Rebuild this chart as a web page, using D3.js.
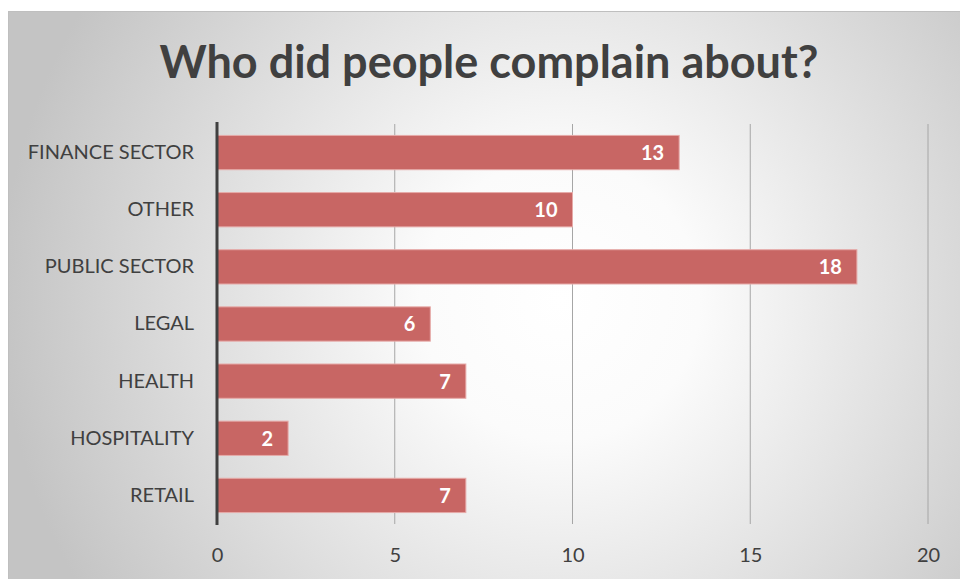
<!DOCTYPE html>
<html>
<head>
<meta charset="utf-8">
<script src="https://cdn.jsdelivr.net/npm/d3@7"></script>
<style>
  body { margin: 0; background: #fff; }
  svg { display: block; }
</style>
</head>
<body>
<svg class="chart"></svg>
<script>
  let categories = ["FINANCE SECTOR", "OTHER", "PUBLIC SECTOR", "LEGAL", "HEALTH", "HOSPITALITY", "RETAIL"];
  let counts = [13, 10, 18, 6, 7, 2, 7];
  let xTicks = [0, 5, 10, 15, 20];
  let title = "Who did people complain about?";

  let width = 960;
  let height = 579;
  let font = "Lato, 'Open Sans', sans-serif";

  let svg = d3.select(".chart").attr("width", width).attr("height", height);

  // background panel with a soft radial shading
  let defs = svg.append("defs");
  let grad = defs.append("radialGradient")
    .attr("id", "bg")
    .attr("gradientUnits", "userSpaceOnUse")
    .attr("cx", 560).attr("cy", 300).attr("r", 560);
  grad.append("stop").attr("offset", "0%").attr("stop-color", "#ffffff");
  grad.append("stop").attr("offset", "25%").attr("stop-color", "#fbfbfb");
  grad.append("stop").attr("offset", "100%").attr("stop-color", "#c4c4c4");

  svg.append("rect")
    .attr("x", 8.5).attr("y", 11.5)
    .attr("width", width).attr("height", height)
    .attr("fill", "url(#bg)")
    .attr("stroke", "#bfbfbf")
    .attr("stroke-width", 1);

  svg.append("text")
    .attr("x", 489).attr("y", 78)
    .attr("text-anchor", "middle")
    .style("font-family", font)
    .style("font-weight", "bold")
    .style("font-size", "45px")
    .style("fill", "#404040")
    .text(title);

  let x = d3.scaleLinear().domain([0, 20]).range([217, 928]);
  let y = d3.scaleBand().domain(categories).range([124, 524])
    .paddingInner(0.4).paddingOuter(0.2);

  // vertical gridlines
  svg.append("g")
    .selectAll("line")
    .data(xTicks.filter(function(d) { return d > 0; }))
    .enter()
    .append("line")
    .attr("x1", function(d) { return x(d); })
    .attr("x2", function(d) { return x(d); })
    .attr("y1", 124).attr("y2", 524)
    .attr("stroke", "#a6a6a6")
    .attr("stroke-width", 1);

  // x tick labels
  let xAxis = svg.append("g")
    .attr("transform", "translate(0,524)")
    .call(d3.axisBottom(x).tickValues(xTicks).tickSize(0).tickPadding(24));
  xAxis.select(".domain").remove();
  xAxis.selectAll("text")
    .style("font-family", font)
    .style("font-size", "20px")
    .style("fill", "#404040");

  // bars
  svg.append("g")
    .selectAll("rect")
    .data(categories)
    .enter()
    .append("rect")
    .attr("x", x(0))
    .attr("y", function(d) { return y(d); })
    .attr("width", function(d, i) { return x(counts[i]) - x(0); })
    .attr("height", y.bandwidth())
    .attr("fill", "#c86664")
    .attr("stroke", "#e6aaa8")
    .attr("stroke-width", 1);

  // value labels
  svg.append("g")
    .selectAll("text")
    .data(categories)
    .enter()
    .append("text")
    .attr("x", function(d, i) { return x(counts[i]) - 15; })
    .attr("y", function(d) { return y(d) + y.bandwidth() / 2; })
    .attr("dy", "0.37em")
    .attr("text-anchor", "end")
    .style("font-family", font)
    .style("font-weight", "bold")
    .style("font-size", "20px")
    .style("fill", "#ffffff")
    .text(function(d, i) { return counts[i]; });

  // category axis
  let yAxis = svg.append("g")
    .attr("transform", "translate(217,0)")
    .call(d3.axisLeft(y).tickSize(0).tickPadding(23));
  yAxis.select(".domain").remove();
  yAxis.selectAll("text")
    .style("font-family", font)
    .style("font-size", "20px")
    .style("fill", "#404040");

  svg.append("line")
    .attr("x1", 217).attr("x2", 217)
    .attr("y1", 122).attr("y2", 525)
    .attr("stroke", "#404040")
    .attr("stroke-width", 3);
</script>
</body>
</html>
